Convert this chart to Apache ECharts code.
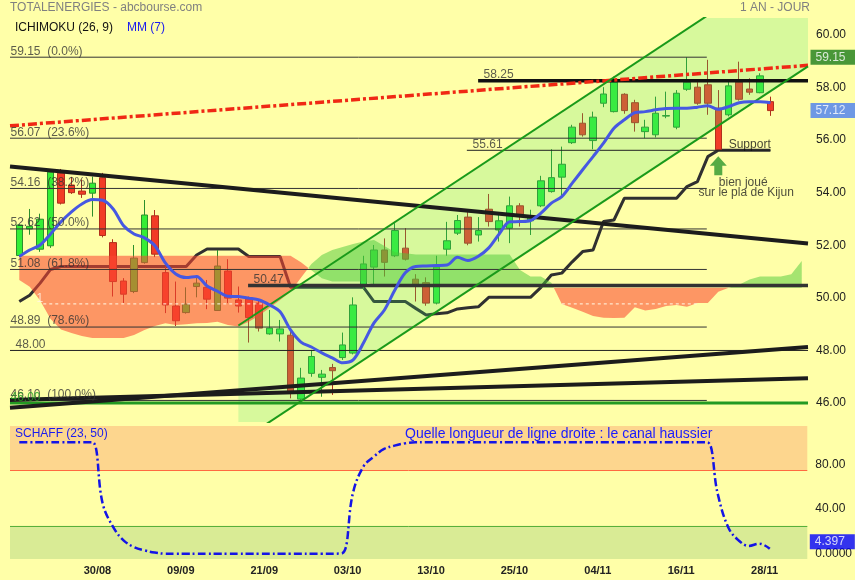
<!DOCTYPE html>
<html><head><meta charset="utf-8">
<script src="https://cdn.jsdelivr.net/npm/echarts@6/dist/echarts.min.js"></script>
<style>html,body{margin:0;padding:0;background:#ffffa8}#c{width:855px;height:580px}</style>
</head><body><div id="c"></div>
<script>
const FONT = '"Liberation Sans", Arial, sans-serif';

// ---- data (index = trading day, 0..72) ----
// [open, close, low, high]
const candles = [
 [51.61,52.77,51.55,52.80],[52.62,52.72,52.40,53.38],[51.85,52.99,51.75,53.20],[51.98,54.78,51.90,54.90],
 [54.74,53.60,53.55,54.90],[54.29,54.00,53.95,54.60],[54.06,53.94,53.80,54.50],[53.98,54.36,53.09,54.61],
 [54.57,52.37,52.30,54.75],[52.10,50.62,50.05,52.23],[50.64,50.14,49.80,50.75],[50.24,51.51,50.18,52.01],
 [51.34,53.15,51.30,53.72],[53.12,51.66,51.55,53.34],[50.96,49.73,49.42,51.19],[49.69,49.13,48.93,50.62],
 [49.44,49.76,49.40,50.40],[50.43,50.56,50.02,50.83],[50.40,49.95,49.57,50.68],[49.52,51.21,49.50,51.82],
 [51.02,49.99,49.80,51.47],[49.92,49.69,49.44,50.43],[49.96,49.25,48.30,50.05],[49.80,48.85,48.72,49.90],
 [48.63,48.85,48.60,49.54],[48.63,48.82,48.34,49.16],[48.58,46.43,46.18,48.78],[46.15,46.95,46.10,47.34],
 [47.13,47.77,47.00,48.02],[46.98,47.10,46.24,47.26],[47.35,47.23,46.31,47.49],[47.73,48.21,47.64,48.68],
 [47.90,49.73,47.85,50.02],[50.45,51.29,50.30,51.60],[51.17,51.82,50.45,52.01],[51.82,51.35,50.81,52.26],
 [51.60,52.56,51.55,52.84],[51.89,51.47,51.42,52.65],[50.71,50.46,49.86,50.90],[50.58,49.80,49.70,50.78],
 [49.80,51.17,49.75,51.60],[51.85,52.17,51.60,52.89],[52.46,52.94,52.39,53.15],[53.07,52.08,52.00,53.26],
 [52.39,52.56,52.14,53.07],[53.37,52.90,52.71,53.95],[52.58,52.93,52.14,53.22],[52.65,53.50,52.08,53.85],
 [53.50,53.09,52.71,53.60],[52.93,53.05,52.39,53.35],[53.50,54.45,53.45,54.64],[54.04,54.57,54.00,55.65],
 [54.59,55.08,53.85,55.75],[55.90,56.49,55.85,56.58],[56.64,56.20,56.13,57.02],[55.98,56.87,55.65,57.08],
 [57.40,57.75,57.25,58.01],[57.08,58.20,57.05,58.41],[57.74,57.12,57.00,57.78],[57.42,56.66,56.32,57.53],
 [56.32,56.49,56.07,56.77],[56.20,57.02,56.10,57.65],[56.91,56.93,56.83,57.84],[56.49,57.78,56.41,57.90],
 [57.93,58.20,57.87,59.15],[58.01,57.40,57.34,58.20],[58.10,57.40,56.96,59.05],[57.21,55.63,55.61,57.90],
 [56.96,58.06,56.90,58.22],[58.20,57.55,57.50,58.98],[57.94,57.82,57.72,58.35],[57.80,58.44,57.78,58.54],
 [57.46,57.12,56.92,57.65]
];
const mm7 = [51.57,51.82,52.01,52.43,52.89,53.27,53.57,53.74,53.71,53.38,
 52.74,52.43,52.28,51.98,51.33,50.91,50.77,50.81,50.45,50.25,
 50.06,50.05,49.99,49.92,49.73,49.47,48.78,48.32,48.13,47.91,
 47.72,47.53,47.64,48.29,49.05,49.54,50.30,50.95,51.19,51.21,
 51.23,51.25,51.54,51.42,51.58,51.90,52.43,52.89,52.90,52.94,
 53.22,53.60,53.85,54.36,54.87,55.37,55.88,56.45,56.77,57.04,
 57.08,57.15,57.20,57.21,57.21,57.25,57.30,57.17,57.27,57.42,
 57.46,57.46,57.42];
const kijun = [49.86,50.10,50.56,51.08,
 51.19,51.19,51.19,51.19,51.19,51.19,51.19,51.19,51.19,51.19,51.19,51.19,51.19,
 51.63,51.86,51.86,51.86,51.86,51.57,51.57,51.57,51.57,
 50.40,50.40,50.40,50.40,50.40,50.40,50.40,50.40,
 49.86,49.86,49.86,49.86,
 49.60,49.35,49.40,49.43,49.58,49.62,49.66,
 50.02,50.02,50.02,50.02,50.02,
 50.40,50.87,50.94,51.37,51.76,51.82,52.90,52.96,
 53.79,53.79,53.79,53.79,53.79,53.79,
 54.23,54.42,55.37,
 55.61,55.61,55.61,55.61,55.61,55.61];
// cloud spans (index 0..75)
const senkouA = [50.68,50.42,49.90,49.20,48.80,48.66,48.55,48.47,48.47,48.47,
 48.47,48.59,48.78,48.93,49.03,48.97,49.00,49.03,49.04,49.09,
 48.97,48.91,49.09,49.33,49.62,49.92,50.23,50.76,51.29,51.63,
 51.82,51.93,52.05,52.14,52.20,51.97,51.73,51.70,51.65,51.65,
 51.65,51.65,51.65,51.65,51.65,51.65,51.65,51.65,51.06,50.81,
 50.81,50.57,49.77,49.62,49.47,49.31,49.24,49.23,49.24,49.64,
 49.52,49.58,49.69,49.73,49.66,49.80,49.80,50.23,50.38,50.50,
 50.70,50.81,50.81,50.81,50.90,51.40];
const senkouB = [51.60,51.60,51.60,51.60,51.60,51.60,51.60,51.60,51.60,51.60,
 51.60,51.60,51.60,51.60,51.60,51.60,51.60,51.60,51.60,51.60,
 51.60,51.60,51.60,51.60,51.60,51.60,51.60,51.35,51.05,50.75,
 50.62,50.62,50.62,50.62,50.50,50.50,50.50,50.50,50.50,50.50,
 50.50,50.50,50.50,50.50,50.50,50.50,50.50,50.50,50.50,50.50,
 50.38,50.38,50.38,50.38,50.38,50.38,50.38,50.38,50.38,50.38,
 50.38,50.38,50.38,50.38,50.38,50.38,50.38,50.38,50.38,50.38,
 50.38,50.38,50.38,50.38,50.38,50.38];
const cloudDashLevel = 49.77;
const cloudDashRanges = [[2.3, 23.5], [52, 65]];
const schaff = [100,100,100,100,100,100,100,100,45,24,
 12,6,3,1,0,0,0,0,0,0,
 0,0,0,0,0,0,0,0,0,0,
 0,0.5,54,78,87,94,97,99,100,100,
 100,100,100,100,100,100,100,100,100,100,
 100,100,100,100,100,100,100,100,100,100,
 100,100,100,100,100,100,100,54,24,12,
 7,9,4.397];
const schaffBands = [25, 75];

const dateLabels = ['30/08','09/09','21/09','03/10','13/10','25/10','04/11','16/11','28/11'];
const dateLabelAt = [7.5,15.5,23.5,31.5,39.5,47.5,55.5,63.5,71.5];
const priceTicks = [46,48,50,52,54,56,58,60];
const schaffTicks = [0,40,80];

const X_MIN = -0.89, X_MAX = 75.6;
const FIB_END = 65.9;
const fibLevels = [59.15,56.07,54.16,52.62,51.08,48.89,46.10];
const fibPct = ['0.0%','23.6%','38.2%','50.0%','61.8%','78.6%','100.0%'];

// drawn lines, in data coordinates [index, price]
const channelUpper = [[21.0, 48.95],[75.6, 63.26]];
const channelLower = [[21.0, 44.50],[75.6, 58.80]];
const redDashLine  = [[X_MIN, 56.54],[X_MAX, 58.84]];
const downTrend    = [[X_MIN, 54.99],[X_MAX, 52.07]];
const upTrendA     = [[X_MIN, 45.82],[X_MAX, 48.13]];
const upTrendB     = [[X_MIN, 46.12],[X_MAX, 46.94]];
const level48      = [[X_MIN, 48.00],[X_MAX, 48.00]];
const level46      = [[X_MIN, 46.00],[X_MAX, 46.00]];
const level5047    = [[21.93, 50.47],[X_MAX, 50.47]];
const level5825    = [[43.98, 58.25],[X_MAX, 58.25]];
const level5561    = [[42.9, 55.61],[72.0, 55.61]];
const lastPrice = 57.12, fibHigh = 59.15, lastSchaff = 4.397;

// ---- helpers ----
function clipPoly(pts, x0, y0, x1, y1) {
  const planes = [
    [p => p[0] >= x0, (a,b) => { const t=(x0-a[0])/(b[0]-a[0]); return [x0, a[1]+t*(b[1]-a[1])]; }],
    [p => p[0] <= x1, (a,b) => { const t=(x1-a[0])/(b[0]-a[0]); return [x1, a[1]+t*(b[1]-a[1])]; }],
    [p => p[1] >= y0, (a,b) => { const t=(y0-a[1])/(b[1]-a[1]); return [a[0]+t*(b[0]-a[0]), y0]; }],
    [p => p[1] <= y1, (a,b) => { const t=(y1-a[1])/(b[1]-a[1]); return [a[0]+t*(b[0]-a[0]), y1]; }]
  ];
  let out = pts;
  for (const [inside, inter] of planes) {
    const inp = out; out = [];
    for (let k = 0; k < inp.length; k++) {
      const cur = inp[k], prev = inp[(k + inp.length - 1) % inp.length];
      const ci = inside(cur), pi = inside(prev);
      if (ci) { if (!pi) out.push(inter(prev, cur)); out.push(cur); }
      else if (pi) out.push(inter(prev, cur));
    }
    if (!out.length) break;
  }
  return out;
}
function cloudRuns() {
  const runs = []; let cur = null;
  for (let i = 0; i < senkouA.length; i++) {
    const d = senkouA[i] - senkouB[i];
    const s = d >= 0 ? 1 : -1;
    if (!cur) { cur = {sign: s, top: [[i, senkouA[i]]], bot: [[i, senkouB[i]]]}; continue; }
    if (s !== cur.sign) {
      const dp = senkouA[i-1] - senkouB[i-1];
      const t = dp / (dp - d);
      const xc = i - 1 + t;
      const yc = senkouA[i-1] + (senkouA[i] - senkouA[i-1]) * t;
      cur.top.push([xc, yc]); cur.bot.push([xc, yc]);
      runs.push(cur);
      cur = {sign: s, top: [[xc, yc]], bot: [[xc, yc]]};
    }
    cur.top.push([i, senkouA[i]]); cur.bot.push([i, senkouB[i]]);
  }
  runs.push(cur);
  return runs;
}
function seg(data, color, width, z, type) {
  return {type:'line', xAxisIndex:0, yAxisIndex:0, data: data, showSymbol:false, symbol:'none', silent:true,
    lineStyle:{color: color, width: width, type: type || 'solid', cap:'butt'}, z: z};
}
function textSeries(items, style, z) {
  return {type:'scatter', xAxisIndex: style.xi || 0, yAxisIndex: style.yi || 0, clip:false, silent:true, z: z || 8,
    symbolSize: style.symbolSize || 1, symbol: style.symbol || 'circle',
    itemStyle:{color: style.markColor || 'rgba(0,0,0,0)'},
    data: items,
    label:{show:true, formatter: p => p.data[2], position: style.position || 'right', distance: style.distance == null ? 0 : style.distance,
      offset: style.offset || [0,-6], color: style.color || '#333', fontSize: style.fontSize || 12, fontFamily: FONT,
      backgroundColor: style.bg, padding: style.padding || 0, fontWeight: style.fontWeight || 'normal', lineHeight: style.lineHeight}};
}

const series = [];
// candles
series.push({type:'candlestick', xAxisIndex:0, yAxisIndex:0, z:1, barWidth:7, silent:true,
  data: candles.map((c,i) => [i, c[0], c[1], c[2], c[3]]),
  itemStyle:{color:'#35ee35', color0:'#f23c26', borderColor:'#2b8f2b', borderColor0:'#b0301c', borderWidth:1}});
// kijun (under overlays)
series.push(seg(kijun.map((v,i)=>[i,v]), '#303030', 3, 1));
// channel fill
series.push({type:'custom', xAxisIndex:0, yAxisIndex:0, z:3, silent:true, data:[[0,50]],
  renderItem: (params, api) => {
    const cs = params.coordSys;
    const pts = channelUpper.concat(channelLower.slice().reverse()).map(p => api.coord(p));
    return {type:'polygon', shape:{points: clipPoly(pts, cs.x, cs.y, cs.x + cs.width, cs.y + cs.height)},
      style:{fill:'rgba(73,227,114,0.22)'}};
  }});
// ichimoku cloud
series.push({type:'custom', xAxisIndex:0, yAxisIndex:0, z:3, silent:true, data:[[0,50]],
  renderItem: (params, api) => {
    const children = cloudRuns().map(r => ({type:'polygon',
      shape:{points: r.top.concat(r.bot.slice().reverse()).map(p => api.coord(p))},
      style:{fill: r.sign < 0 ? 'rgba(251,70,49,0.57)' : 'rgba(75,201,56,0.5)'}}));
    return {type:'group', children: children};
  }});
// white dashed cloud line
cloudDashRanges.forEach(r => series.push(seg([[r[0], cloudDashLevel],[r[1], cloudDashLevel]], '#fffbe8', 1, 4, [3,3])));
// thin horizontal lines
fibLevels.forEach(v => series.push(seg([[X_MIN, v],[FIB_END, v]], '#333333', 1, 5)));
series.push(seg(level48, '#222222', 1, 5));
series.push(seg(level5561, '#222222', 1, 5));
// thick lines
series.push(seg(level46, '#229a22', 3, 6));
series.push(seg(level5047, '#333333', 3.5, 6));
series.push(seg(level5825, '#111111', 3.5, 6));
series.push(seg(downTrend, '#1c1c1c', 4, 6));
series.push(seg(upTrendA, '#1c1c1c', 4, 6));
series.push(seg(upTrendB, '#1c1c1c', 4, 6));
series.push(seg(redDashLine, '#f02814', 3.5, 6, [9,3,3,3]));
series.push(seg(channelUpper, '#1a9a1a', 2, 6));
series.push(seg(channelLower, '#1a9a1a', 2, 6));
// MM(7)
series.push({type:'line', xAxisIndex:0, yAxisIndex:0, z:7, silent:true, data: mm7.map((v,i)=>[i,v]),
  showSymbol:false, symbol:'none', smooth:0.3, lineStyle:{color:'#4658e2', width:3}});
// texts on the price chart
series.push(textSeries(fibLevels.map((v,k)=>[X_MIN, v, v.toFixed(2)+'  ('+fibPct[k]+')']), {color:'#333'}));
series.push(textSeries([[-0.41, 48.00, '48.00'],[22.41, 50.47, '50.47'],[44.46, 58.25, '58.25'],[43.4, 55.61, '55.61']], {color:'#333'}));
series.push(textSeries([[X_MIN, 46.00, '46.00']], {color:'#22a022', offset:[0,-5]}));
series.push(textSeries([[67.95, 55.61, 'Support']], {color:'#111'}));
series.push(textSeries([[69.39, 54.38, 'bien joué'],[69.67, 53.98, 'sur le pla de Kijun']], {color:'#222', position:'inside', offset:[0,0]}));
series.push(textSeries([[1.98, 49.98, '1']], {color:'#fff6e6', position:'inside', offset:[0,0]}));
// arrow
series.push({type:'scatter', xAxisIndex:0, yAxisIndex:0, z:8, silent:true, clip:false,
  symbol:'path://M8.5,0 L17,9.5 L12.5,9.5 L12.5,19 L4.5,19 L4.5,9.5 L0,9.5 Z', symbolSize:[17,19],
  itemStyle:{color:'#2a962a'}, data:[[67, 55.02]]});
// axis tags
series.push(textSeries([[X_MAX, fibHigh, fibHigh.toFixed(2)]], {color:'#fff', bg:'#1b7d1b', padding:[2,10,1,5], distance:2, offset:[0,0], fontSize:12}, 9));
series.push(textSeries([[X_MAX, lastPrice, lastPrice.toFixed(2)]], {color:'#fff', bg:'#4a7ef2', padding:[2,10,1,5], distance:2, offset:[0,0], fontSize:12}, 9));
// Schaff panel
series.push({type:'line', xAxisIndex:1, yAxisIndex:1, z:5, silent:true, data: schaff.map((v,i)=>[i,v]),
  showSymbol:false, symbol:'none', smooth:0.4, lineStyle:{color:'#1414e6', width:2.5, type:[8,3,2,3]},
  markArea:{silent:true, data:[
    [{yAxis: schaffBands[1], itemStyle:{color:'#fdd68e'}}, {yAxis: 114.6}],
    [{yAxis: -4.76, itemStyle:{color:'#d9eb95'}}, {yAxis: schaffBands[0]}]
  ]},
  markLine:{silent:true, symbol:'none', label:{show:false}, data:[
    {yAxis: schaffBands[1], lineStyle:{color:'#ff6a40', width:1, type:'solid'}},
    {yAxis: schaffBands[0], lineStyle:{color:'#58b03a', width:1, type:'solid'}}
  ]}});
series.push(textSeries([[X_MAX, lastSchaff, String(lastSchaff)]], {xi:1, yi:1, color:'#fff', bg:'#0000ff', padding:[1,10,1,5], lineHeight:13, distance:2, offset:[0,-7], fontSize:12}, 9));

const option = {
  animation: false,
  backgroundColor: '#ffffa8',
  textStyle: {fontFamily: FONT},
  grid: [
    {left: 10, right: 47, top: 18, height: 404, show: false},
    {left: 10, right: 47, top: 426, height: 133, show: false}
  ],
  xAxis: [
    {type:'value', gridIndex:0, min:X_MIN, max:X_MAX, show:false},
    {type:'value', gridIndex:1, min:X_MIN, max:X_MAX, axisLine:{show:false}, axisTick:{show:false}, splitLine:{show:false},
     axisLabel:{customValues: dateLabelAt, fontSize:11, fontWeight:'bold', color:'#222', margin:6, fontFamily:FONT,
       formatter: v => { const k = dateLabelAt.findIndex(a => Math.abs(a - v) < 1e-6); return k >= 0 ? dateLabels[k] : ''; }}}
  ],
  yAxis: [
    {type:'value', gridIndex:0, position:'right', min:45.28, max:60.64, axisLine:{show:false}, axisTick:{show:false}, splitLine:{show:false},
     axisLabel:{customValues: priceTicks, formatter: v => v.toFixed(2), fontSize:12, color:'#222', margin:8, fontFamily:FONT}},
    {type:'value', gridIndex:1, position:'right', min:-4.76, max:114.6, axisLine:{show:false}, axisTick:{show:false}, splitLine:{show:false},
     axisLabel:{customValues: schaffTicks, showMinLabel:true, formatter: v => Math.abs(v) < 1e-9 ? '0.0000' : v.toFixed(2), fontSize:12, color:'#222', margin:8, fontFamily:FONT}}
  ],
  graphic: [
    {type:'text', left:10, top:2, z:100, style:{text:'TOTALENERGIES - abcbourse.com', fill:'#808080', font:'12px ' + FONT}},
    {type:'text', right:45, top:2, z:100, style:{text:'1 AN - JOUR', fill:'#808080', font:'12px ' + FONT}},
    {type:'text', left:15, top:22, z:100, style:{text:'ICHIMOKU (26, 9)', fill:'#111', font:'12px ' + FONT}},
    {type:'text', left:127, top:22, z:100, style:{text:'MM (7)', fill:'#1a1aee', font:'12px ' + FONT}},
    {type:'text', left:15, top:428, z:100, style:{text:'SCHAFF (23, 50)', fill:'#1a1aee', font:'12px ' + FONT}},
    {type:'text', left:405, top:427, z:100, style:{text:'Quelle longueur de ligne droite : le canal haussier', fill:'#1a1aff', font:'14px ' + FONT}}
  ],
  series: series
};
const chart = echarts.init(document.getElementById('c'), null, {renderer:'canvas'});
chart.setOption(option);
</script>
</body></html>
